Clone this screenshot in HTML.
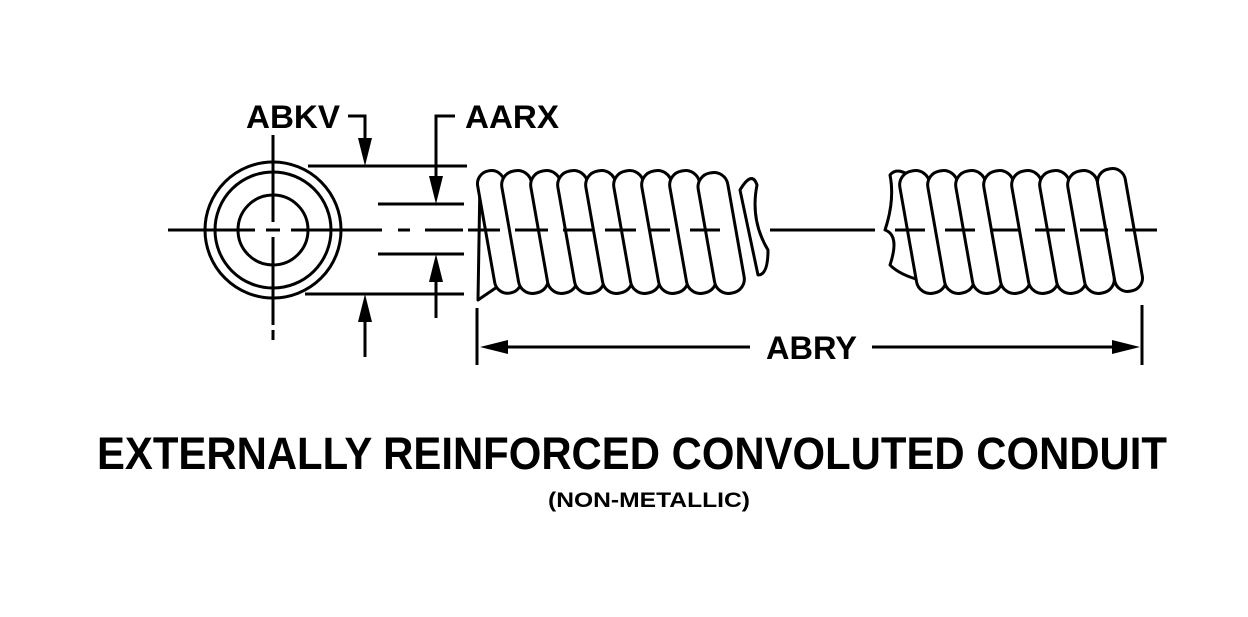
<!DOCTYPE html>
<html><head><meta charset="utf-8"><style>html,body{margin:0;padding:0;background:#fff}svg{display:block}</style></head>
<body>
<svg width="1248" height="617" viewBox="0 0 1248 617" xmlns="http://www.w3.org/2000/svg" font-family="Liberation Sans, sans-serif" font-weight="bold">
<g stroke="#000" stroke-width="3" fill="none">
  <circle cx="273" cy="230" r="68"/>
  <circle cx="273" cy="230" r="58"/>
  <circle cx="273" cy="230" r="35"/>
  <line x1="168" y1="230" x2="255" y2="230"/>
  <line x1="266" y1="230" x2="280" y2="230"/>
  <line x1="291" y1="230" x2="382" y2="230"/>
  <line x1="273" y1="135" x2="273" y2="222"/>
  <line x1="273" y1="237" x2="273" y2="325"/>
  <line x1="273" y1="330" x2="273" y2="340"/>
  <line x1="398" y1="230" x2="410" y2="230"/>
  <line x1="425" y1="230" x2="463" y2="230"/>
  <line x1="308" y1="166" x2="467" y2="166"/>
  <line x1="378" y1="204" x2="464" y2="204"/>
  <line x1="378" y1="254" x2="464" y2="254"/>
  <line x1="305" y1="294" x2="464" y2="294"/>
  <polyline points="348,116 365,116 365,150"/>
  <line x1="365" y1="310" x2="365" y2="357"/>
  <polyline points="455,116 436,116 436,185"/>
  <line x1="436" y1="272" x2="436" y2="318"/>
  <line x1="477" y1="308" x2="477" y2="365"/>
  <line x1="1142" y1="305" x2="1142" y2="365"/>
  <line x1="495" y1="347" x2="750" y2="347"/>
  <line x1="872" y1="347" x2="1125" y2="347"/>
</g>
<g fill="#000">
  <polygon points="358,138 372,138 365,166"/>
  <polygon points="358,322 372,322 365,294"/>
  <polygon points="429,176 443,176 436,204"/>
  <polygon points="429,282 443,282 436,254"/>
  <polygon points="480,347 508,340 508,354"/>
  <polygon points="1140,347 1112,340 1112,354"/>
</g>
<g stroke="#000" stroke-width="3" fill="#fff" stroke-linejoin="round">
  <path d="M478 300 L480 180 Q485 168 495 175 L500 285 Z"/>
  <rect x="486" y="170" width="27" height="124" rx="13" transform="rotate(-10 499 232)"/>
  <rect x="510" y="170" width="30" height="124" rx="14" transform="rotate(-10 525 232)"/>
  <rect x="539" y="170" width="30" height="124" rx="14" transform="rotate(-10 554 232)"/>
  <rect x="566" y="170" width="30" height="124" rx="14" transform="rotate(-10 581 232)"/>
  <rect x="594" y="170" width="30" height="124" rx="14" transform="rotate(-10 609 232)"/>
  <rect x="622" y="170" width="30" height="124" rx="14" transform="rotate(-10 637 232)"/>
  <rect x="650" y="170" width="30" height="124" rx="14" transform="rotate(-10 665 232)"/>
  <rect x="678" y="170" width="30" height="124" rx="14" transform="rotate(-10 693 232)"/>
  <rect x="706" y="172" width="30" height="122" rx="14" transform="rotate(-10 721 232)"/>
  <path d="M740 190 Q752 170 757 185 Q750 220 768 250 Q768 275 758 275 Z"/>
  <path d="M890 175 Q898 165 915 180 L920 280 Q900 275 890 265 Q900 235 885 230 Q895 200 890 175 Z"/>
  <rect x="908" y="170" width="30" height="124" rx="14" transform="rotate(-10 923 232)"/>
  <rect x="936" y="170" width="30" height="124" rx="14" transform="rotate(-10 951 232)"/>
  <rect x="964" y="170" width="30" height="124" rx="14" transform="rotate(-10 979 232)"/>
  <rect x="992" y="170" width="30" height="124" rx="14" transform="rotate(-10 1007 232)"/>
  <rect x="1020" y="170" width="30" height="124" rx="14" transform="rotate(-10 1035 232)"/>
  <rect x="1048" y="170" width="30" height="124" rx="14" transform="rotate(-10 1063 232)"/>
  <rect x="1076" y="170" width="30" height="124" rx="14" transform="rotate(-10 1091 232)"/>
  <rect x="1106" y="168" width="28" height="124" rx="13" transform="rotate(-10 1120 230)"/>
</g>
<g stroke="#000" stroke-width="3">
  <line x1="468" y1="230" x2="500" y2="230"/>
  <line x1="515" y1="230" x2="548" y2="230"/>
  <line x1="563" y1="230" x2="592" y2="230"/>
  <line x1="605" y1="230" x2="636" y2="230"/>
  <line x1="650" y1="230" x2="670" y2="230"/>
  <line x1="690" y1="230" x2="720" y2="230"/>
  <line x1="770" y1="230" x2="875" y2="230"/>
  <line x1="895" y1="230" x2="925" y2="230"/>
  <line x1="945" y1="230" x2="975" y2="230"/>
  <line x1="990" y1="230" x2="1020" y2="230"/>
  <line x1="1035" y1="230" x2="1065" y2="230"/>
  <line x1="1080" y1="230" x2="1108" y2="230"/>
  <line x1="1125" y1="230" x2="1157" y2="230"/>
</g>
<text x="246" y="128" font-size="32" textLength="94" lengthAdjust="spacingAndGlyphs">ABKV</text>
<text x="465" y="128" font-size="32" textLength="94" lengthAdjust="spacingAndGlyphs">AARX</text>
<text x="766" y="359" font-size="32" textLength="91" lengthAdjust="spacingAndGlyphs">ABRY</text>
<text x="97" y="469" font-size="45" textLength="1070" lengthAdjust="spacingAndGlyphs">EXTERNALLY REINFORCED CONVOLUTED CONDUIT</text>
<text x="548" y="507" font-size="21" textLength="202" lengthAdjust="spacingAndGlyphs">(NON-METALLIC)</text>
</svg>
</body></html>
